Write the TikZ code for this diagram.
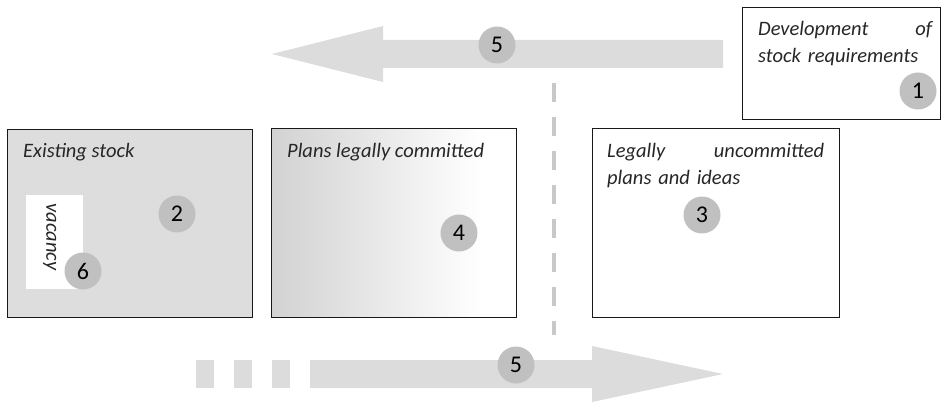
\documentclass[tikz,border=0pt]{standalone}
\usepackage{fontspec}
\setmainfont{Carlito}
\usetikzlibrary{positioning}

\definecolor{arrowgray}{HTML}{DCDCDC}
\definecolor{boxgray}{HTML}{DDDDDD}
\definecolor{shadeleft}{HTML}{D2D2D2}
\definecolor{numgray}{HTML}{C0C0C0}
\definecolor{dashgray}{HTML}{C8C8C8}
\pgfdeclarehorizontalshading{committed}{100bp}{color(0bp)=(shadeleft); color(25bp)=(shadeleft); color(68bp)=(white); color(100bp)=(white)}

\begin{document}
\begin{tikzpicture}[
    x=1pt, y=-1pt,
    stock/.style={rectangle, draw=black!90, line width=1.2pt, anchor=north west, inner sep=0pt},
    caption/.style={anchor=north west, inner sep=0pt, align=left, text=black!85, font=\fontsize{20.5}{27}\selectfont\itshape},
    num/.style={circle, fill=numgray, minimum size=37pt, inner sep=0pt, text=black, font=\fontsize{24}{24}\selectfont},
]
    \useasboundingbox (0,0) rectangle (944,403);

    % Flow arrows
    \fill[arrowgray] (723,40) -- (383,40) -- (383,26) -- (272,54) -- (383,82) -- (383,68) -- (723,68) -- cycle;
    \foreach \x in {196,234,272}
        \fill[arrowgray] (\x,360) rectangle ++(18,28);
    \fill[arrowgray] (310,360) -- (592,360) -- (592,346) -- (723,374) -- (592,402) -- (592,388) -- (310,388) -- cycle;

    % Time line
    \coordinate (today top) at (554,83);
    \coordinate (today bottom) at (554,335);
    \draw[dashgray, line width=4pt, dash pattern=on 19pt off 15pt] (today top) -- (today bottom);

    % Boxes
    \node[stock, minimum width=198pt, minimum height=112pt] (demand) at (742,7) {};
    \node[stock, fill=boxgray, minimum width=245pt, minimum height=188pt] (existing) at (7,129) {};
    \node[stock, shade, shading=committed, minimum width=245pt, minimum height=189pt] (committed) at (271,128) {};
    \node[stock, minimum width=247pt, minimum height=189pt] (uncommitted) at (592,128) {};

    % Vacancy
    \node[fill=white, anchor=north west, inner sep=0pt, minimum width=57pt, minimum height=94pt] (vacancy) at (26,195) {};
    \node[rotate=-90, inner sep=0pt, text=black!85, font=\fontsize{20.5}{20.5}\selectfont\itshape] (vacancytxt) at ([xshift=-5pt, yshift=5pt]vacancy.center) {vacancy};

    % Captions
    \node[caption, text width=174pt] (demandtxt) at (758,21) {Development\hfill of\\stock requirements};
    \node[caption] (existingtxt) at (23,143) {Existing stock};
    \node[caption] (committedtxt) at (287,143) {Plans legally committed};
    \node[caption, text width=217pt] (uncommittedtxt) at (607,143) {Legally\hfill uncommitted\\plans and ideas};

    % Numbers
    \node[num] (n1) at (918,91) {1};
    \node[num] (n2) at (177,214) {2};
    \node[num] (n3) at (702,215) {3};
    \node[num] (n4) at (459,233) {4};
    \node[num] (n5top) at (497,45) {5};
    \node[num] (n5bottom) at (516,365) {5};
    \node[num] (n6) at (83,271) {6};
\end{tikzpicture}
\end{document}
